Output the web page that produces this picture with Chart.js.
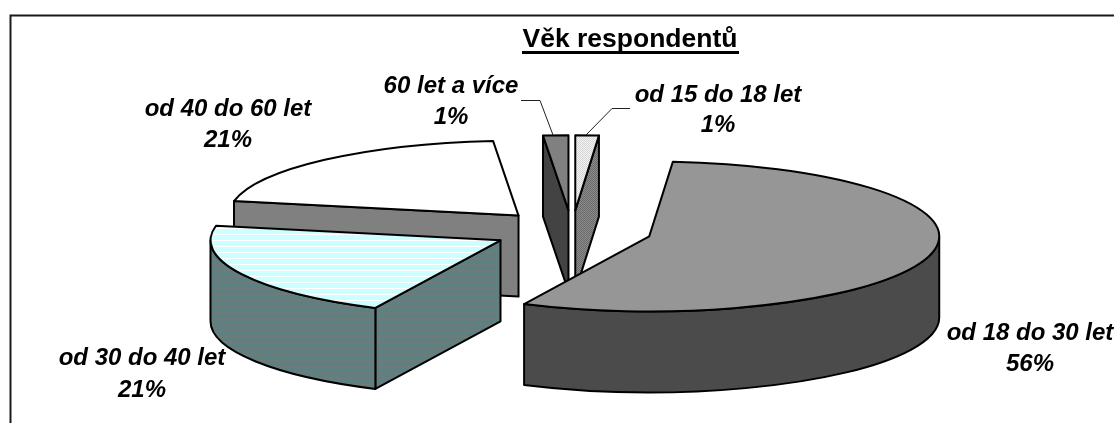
<!DOCTYPE html>
<html lang="cs">
<head>
<meta charset="utf-8">
<title>Věk respondentů</title>
<script src="https://cdn.jsdelivr.net/npm/chart.js@4/dist/chart.umd.min.js"></script>
<style>
  html, body { margin: 0; padding: 0; background: #fff; }
  canvas { display: block; }
</style>
</head>
<body>
<canvas id="pie" width="1114" height="423"></canvas>
<script>
// --- DATA ---
const titleText = 'Věk respondentů';
const categories = ['od 15 do 18 let', 'od 18 do 30 let', 'od 30 do 40 let', 'od 40 do 60 let', '60 let a více'];
const values = [1.3, 55.8, 21, 20.5, 1.4]; // odhad z velikosti vysecu
const percentLabels = ['1%', '56%', '21%', '21%', '1%']; // jak je v obrazku

// --- STYLE ---
const topColors = ['dots', '#969696', 'cyanStripes', '#ffffff', '#808080'];
const sideColors = ['darkDots', '#4b4b4b', 'tealStripes', '#808080', '#434343'];
const labelSpots = [[718, 102, 132], [1030, 340, 371], [142, 365, 397], [228, 116, 147], [451, 93, 124]];
const paintOrder = [3, 4, 0, 2, 1]; // odzadu dopredu
const squash = 75 / 290;
const depth = 81;

function makePattern(w, h, paint) {
    const c = document.createElement('canvas');
    c.width = w;
    c.height = h;
    paint(c.getContext('2d'));
    return c;
}

function fillFor(ctx, name) {
    if (name === 'dots') {
        return ctx.createPattern(makePattern(2, 2, p => {
            p.fillStyle = '#f4f4f4'; p.fillRect(0, 0, 2, 2);
            p.fillStyle = '#d4d4d4'; p.fillRect(0, 0, 1, 1); p.fillRect(1, 1, 1, 1);
        }), 'repeat');
    }
    if (name === 'darkDots') {
        return ctx.createPattern(makePattern(2, 2, p => {
            p.fillStyle = '#8c8c8c'; p.fillRect(0, 0, 2, 2);
            p.fillStyle = '#6a6a6a'; p.fillRect(0, 0, 1, 1); p.fillRect(1, 1, 1, 1);
        }), 'repeat');
    }
    if (name === 'cyanStripes') {
        return ctx.createPattern(makePattern(1, 6, p => {
            p.fillStyle = '#ccffff'; p.fillRect(0, 0, 1, 6);
            p.fillStyle = '#ffffff'; p.fillRect(0, 0, 1, 1);
        }), 'repeat');
    }
    if (name === 'tealStripes') {
        return ctx.createPattern(makePattern(1, 6, p => {
            p.fillStyle = '#5f8080'; p.fillRect(0, 0, 1, 6);
            p.fillStyle = '#707b7b'; p.fillRect(0, 0, 1, 1);
        }), 'repeat');
    }
    return name;
}

// --- KOLAC 3D: kresli se z prvku, ktere spocital Chart.js ---
const pie3d = {
    id: 'pie3d',
    beforeDatasetsDraw(chart) {
        const ctx = chart.ctx;
        const arcs = chart.getDatasetMeta(0).data;

        ctx.save();
        ctx.lineWidth = 2;
        ctx.strokeStyle = '#000';
        ctx.lineJoin = 'round';

        paintOrder.forEach(i => {
            const arc = arcs[i];
            const r = arc.outerRadius;
            const a0 = arc.startAngle;
            const a1 = arc.endAngle;
            const mid = (a0 + a1) / 2;
            const off = arc.options.offset / 4;
            const cx = arc.x + Math.cos(mid) * off;
            const cy = arc.y + Math.sin(mid) * off * squash;
            const px = a => cx + Math.cos(a) * r;
            const py = a => cy + Math.sin(a) * r * squash;
            const side = fillFor(ctx, sideColors[i]);

            // rezy
            const cut = a => {
                ctx.beginPath();
                ctx.moveTo(cx, cy);
                ctx.lineTo(px(a), py(a));
                ctx.lineTo(px(a), py(a) + depth);
                ctx.lineTo(cx, cy + depth);
                ctx.closePath();
                ctx.fillStyle = side;
                ctx.fill();
                ctx.stroke();
            };
            if (Math.cos(a0) < 0) cut(a0);
            if (Math.cos(a1) > 0) cut(a1);

            // vnejsi stena
            const w0 = Math.max(a0, 0);
            const w1 = Math.min(a1, Math.PI);
            if (w1 > w0) {
                ctx.beginPath();
                ctx.ellipse(cx, cy, r, r * squash, 0, w0, w1);
                ctx.ellipse(cx, cy + depth, r, r * squash, 0, w1, w0, true);
                ctx.closePath();
                ctx.fillStyle = side;
                ctx.fill();
                ctx.stroke();
            }

            // vrch
            ctx.beginPath();
            ctx.moveTo(cx, cy);
            ctx.ellipse(cx, cy, r, r * squash, 0, a0, a1);
            ctx.closePath();
            ctx.fillStyle = fillFor(ctx, topColors[i]);
            ctx.fill();
            ctx.stroke();
        });
        ctx.restore();
        return false;
    },
    afterDraw(chart) {
        const ctx = chart.ctx;
        ctx.save();

        // ramecek
        ctx.strokeStyle = '#1a1a1a';
        ctx.lineWidth = 2;
        ctx.beginPath();
        ctx.moveTo(10.5, 423);
        ctx.lineTo(10.5, 15.5);
        ctx.lineTo(1114, 15.5);
        ctx.stroke();

        // odkazove cary
        ctx.strokeStyle = '#222';
        ctx.lineWidth = 1;
        ctx.beginPath();
        ctx.moveTo(521, 100.5); ctx.lineTo(540, 100.5); ctx.lineTo(553, 135);
        ctx.moveTo(630, 108.5); ctx.lineTo(612, 108.5); ctx.lineTo(586, 135);
        ctx.stroke();

        // nadpis
        ctx.fillStyle = '#000';
        ctx.textAlign = 'center';
        ctx.textBaseline = 'alphabetic';
        ctx.font = 'bold 26.5px "Liberation Sans"';
        ctx.fillText(titleText, 630, 47);
        ctx.fillRect(522, 51, 217, 3);

        // popisky
        ctx.font = 'italic bold 24px "Liberation Sans"';
        categories.forEach((name, i) => {
            const [x, y1, y2] = labelSpots[i];
            ctx.fillText(name, x, y1);
            ctx.fillText(percentLabels[i], x, y2);
        });
        ctx.restore();
    }
};

new Chart(document.getElementById('pie'), {
    type: 'pie',
    data: {
        labels: categories,
        datasets: [{
            data: values,
            offset: 320,
            borderWidth: 0
        }]
    },
    options: {
        responsive: false,
        animation: false,
        radius: 290,
        layout: { padding: { left: 30, top: 39, right: 0, bottom: 0 } },
        plugins: {
            legend: { display: false },
            title: { display: false },
            tooltip: { enabled: false }
        }
    },
    plugins: [pie3d]
});
</script>
</body>
</html>
